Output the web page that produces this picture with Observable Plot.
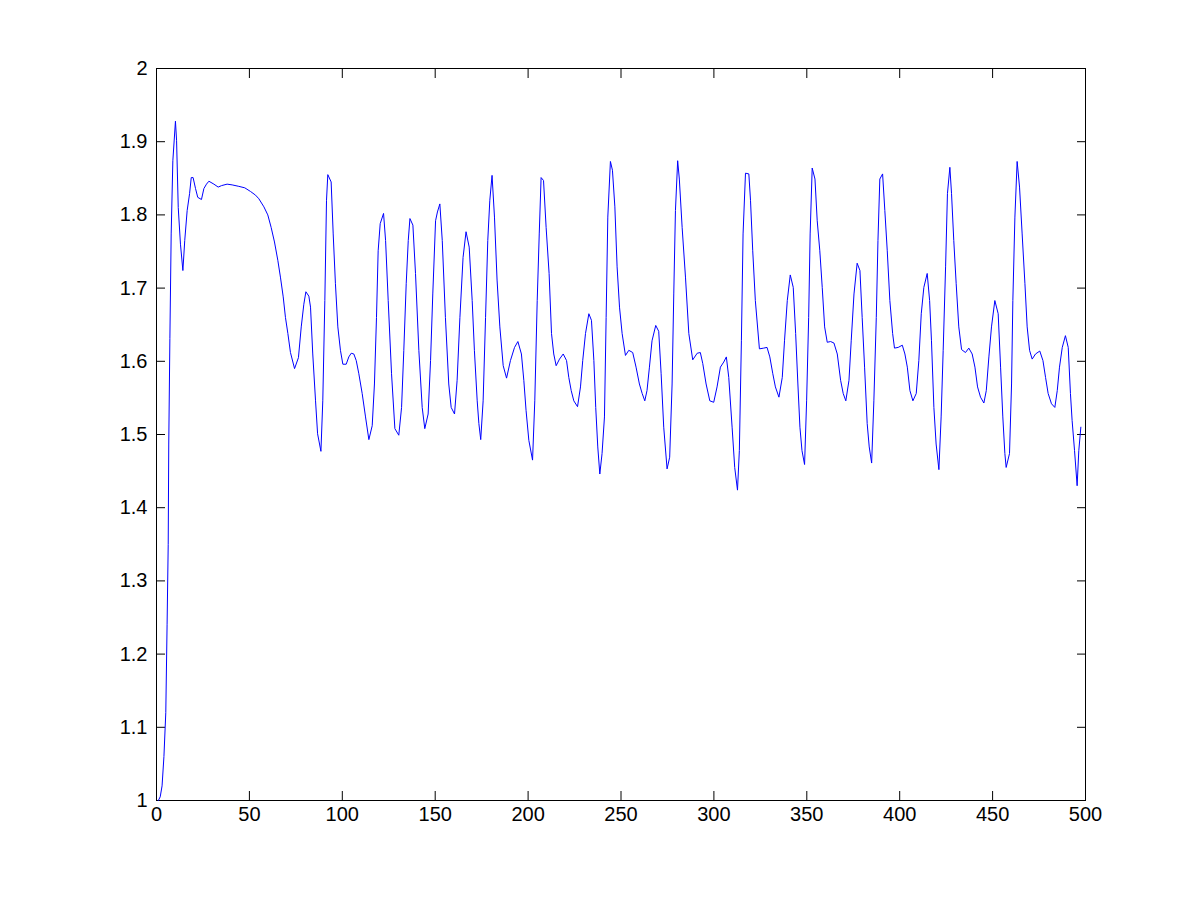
<!DOCTYPE html>
<html>
<head>
<meta charset="utf-8">
<script src="https://cdn.jsdelivr.net/npm/d3@7"></script>
<script src="https://cdn.jsdelivr.net/npm/@observablehq/plot@0.6"></script>
<style>
  html, body { margin: 0; padding: 0; background: #ffffff; }
  #chart { width: 1200px; height: 900px; }
  svg { font-family: "Liberation Sans", Arial, Helvetica, sans-serif; }
</style>
</head>
<body>
<div id="chart"></div>
<script>
const xTicks = [0, 50, 100, 150, 200, 250, 300, 350, 400, 450, 500];
const yTicks = [1, 1.1, 1.2, 1.3, 1.4, 1.5, 1.6, 1.7, 1.8, 1.9, 2];
const yTickLabels = ["1", "1.1", "1.2", "1.3", "1.4", "1.5", "1.6", "1.7", "1.8", "1.9", "2"];

const xs = [1,2,3,4,5,5.7,6.3,6.6,7.2,7.9,8.8,10.2,10.8,11.7,12.9,14.2,15.2,16.5,17.8,18.7,19.7,21,22.2,24.2,25.5,26.9,28.2,30.9,33.2,35,38,40.7,44.3,47.5,50.6,53.3,55.1,57.8,59.9,61.7,63.5,65.3,66.7,68.2,69.4,70.7,72.1,74.3,76.4,77.9,79.3,80.4,82,82.9,84.1,85.6,86.7,88.5,89.5,90.6,91.5,92.2,94,95.1,96.3,97.6,99,100.3,102.1,103.5,104.8,106.2,107.5,108.9,110.7,112.5,114.3,116.1,117.3,118.4,119.3,120.4,122.2,123.3,124.7,126.5,128.3,130.4,131.9,133.1,134.4,135.5,136.4,138,139.4,141.2,143,144.4,146.2,147.5,148.7,150.2,151.2,152.5,153.8,155.5,157.3,158.6,160.4,161.8,163.3,165,166.6,168.3,169.9,171.1,172.6,173.5,174.5,175.8,177.1,178.3,179.4,180.6,181.9,183.3,184.8,186.6,188.4,190.5,192.7,194.5,196.4,197.7,198.9,200.4,202.4,203.6,204.9,206,207,208.3,209.7,211.3,212.6,213.8,215.1,216.9,218.9,220.7,221.9,223.2,224.6,226.6,228.2,229.4,230.9,232.7,234.1,235.4,236.4,237.5,238.6,239.8,241.1,242,242.9,244.3,245.4,246.7,247.9,249.2,250.6,252.4,254.2,256.3,258.1,259.9,261.4,262.8,264,265.3,266.7,268.7,270.3,271.6,273,274.8,276.2,277.5,278.4,279.3,280.5,281.4,282.9,284.7,286.5,288.6,291,292.7,294,295.8,297.8,299.9,301.7,303.5,305.3,306.7,308,309.8,311.2,312.7,313.7,314.8,315.7,317,318.8,319.7,320.9,322.3,324.5,326.8,328.6,330.1,331.7,333.1,335,336.8,338,339.5,341.1,342.7,344,345.2,346.3,347.4,348.8,349.9,351,351.8,352.9,354.4,355.6,357,358.3,359.6,361,362.8,364.6,366.4,368.2,369.6,371,372.7,373.9,375.4,377.1,378.6,379.8,381.1,382.5,383.6,384.9,386.1,387.4,388.3,389.3,390.8,392,393.3,394.7,396.2,397.2,399.2,401.4,402.8,404.1,405.5,407.1,408.9,410.3,411.6,413,414.8,416.1,417.1,418.4,419.6,421.1,422.3,423.4,424.7,425.7,427,427.9,429.1,430.4,431.8,433.3,435.4,437.2,439,440.5,441.9,443.5,445.3,446.6,448,449.4,451.2,453,454.3,455.5,456.6,457.3,459.1,460.2,460.9,462,463.2,464.5,465.9,467.4,468.6,469.9,471.3,473.1,475.4,477.1,478.5,479.9,481.7,483.5,484.8,486,487.5,489.2,490.7,491.9,492.8,494.1,495.5,496.4,497.5];

const ys = [1.0,1.005,1.02,1.06,1.12,1.24,1.35,1.487,1.631,1.774,1.874,1.928,1.902,1.81,1.76,1.724,1.765,1.806,1.829,1.851,1.851,1.836,1.824,1.821,1.836,1.842,1.846,1.842,1.838,1.84,1.842,1.841,1.839,1.837,1.832,1.827,1.822,1.811,1.8,1.783,1.763,1.738,1.715,1.688,1.66,1.638,1.612,1.59,1.605,1.647,1.678,1.695,1.689,1.674,1.61,1.546,1.501,1.477,1.546,1.683,1.82,1.855,1.845,1.774,1.706,1.647,1.615,1.596,1.596,1.606,1.611,1.61,1.601,1.583,1.556,1.524,1.493,1.512,1.569,1.66,1.751,1.788,1.802,1.765,1.683,1.583,1.508,1.499,1.537,1.615,1.706,1.765,1.795,1.786,1.72,1.615,1.537,1.508,1.528,1.601,1.692,1.792,1.804,1.815,1.765,1.66,1.569,1.537,1.528,1.574,1.66,1.742,1.777,1.756,1.683,1.615,1.546,1.515,1.493,1.546,1.66,1.765,1.82,1.854,1.797,1.711,1.647,1.594,1.577,1.601,1.619,1.627,1.61,1.574,1.533,1.492,1.465,1.546,1.683,1.774,1.851,1.847,1.783,1.72,1.638,1.61,1.594,1.603,1.61,1.601,1.578,1.56,1.546,1.538,1.565,1.601,1.638,1.665,1.656,1.601,1.537,1.483,1.446,1.474,1.524,1.66,1.797,1.873,1.861,1.811,1.729,1.674,1.638,1.608,1.615,1.612,1.592,1.569,1.556,1.546,1.56,1.592,1.628,1.649,1.641,1.583,1.51,1.453,1.469,1.569,1.692,1.806,1.874,1.849,1.783,1.715,1.638,1.602,1.611,1.612,1.597,1.569,1.546,1.544,1.565,1.592,1.599,1.606,1.578,1.51,1.455,1.424,1.478,1.628,1.774,1.857,1.856,1.82,1.751,1.683,1.617,1.618,1.619,1.606,1.583,1.565,1.551,1.578,1.628,1.683,1.718,1.701,1.638,1.569,1.51,1.478,1.459,1.546,1.66,1.774,1.864,1.849,1.792,1.751,1.701,1.647,1.626,1.627,1.625,1.61,1.574,1.556,1.546,1.574,1.628,1.692,1.734,1.724,1.66,1.592,1.515,1.483,1.461,1.546,1.66,1.765,1.849,1.856,1.806,1.751,1.683,1.638,1.618,1.619,1.622,1.61,1.592,1.56,1.546,1.556,1.601,1.665,1.701,1.72,1.683,1.628,1.537,1.487,1.452,1.524,1.615,1.729,1.829,1.865,1.829,1.765,1.706,1.647,1.616,1.612,1.618,1.61,1.592,1.565,1.551,1.543,1.56,1.606,1.647,1.683,1.665,1.592,1.524,1.474,1.455,1.474,1.569,1.683,1.797,1.873,1.838,1.774,1.706,1.647,1.615,1.603,1.61,1.614,1.601,1.578,1.556,1.542,1.537,1.56,1.592,1.619,1.635,1.619,1.556,1.519,1.478,1.43,1.478,1.51];

const data = xs.map((x, i) => ({x, y: ys[i]}));

const chart = Plot.plot({
  width: 1200,
  height: 900,
  marginLeft: 156,
  marginRight: 115,
  marginTop: 68,
  marginBottom: 100,
  style: {fontSize: "20px", fontFamily: "'Liberation Sans', Arial, sans-serif", color: "#000", background: "#fff"},
  x: {domain: [0, 500], ticks: xTicks},
  y: {domain: [1, 2], ticks: yTicks},
  marks: [
    Plot.frame({stroke: "#000", strokeWidth: 1}),
    Plot.axisX(xTicks, {anchor: "bottom", tickSize: 0, tickPadding: 6, tickFormat: d => String(d), label: null}),
    Plot.axisY(yTicks, {anchor: "left", tickSize: 0, tickPadding: 9, tickFormat: (d, i) => yTickLabels[yTicks.indexOf(d)], label: null}),
    Plot.axisX(xTicks, {anchor: "bottom", tickSize: -9, tickFormat: () => "", label: null}),
    Plot.axisX(xTicks, {anchor: "top", tickSize: -9, tickFormat: () => "", label: null}),
    Plot.axisY(yTicks, {anchor: "left", tickSize: -9, tickFormat: () => "", label: null}),
    Plot.axisY(yTicks, {anchor: "right", tickSize: -9, tickFormat: () => "", label: null}),
    Plot.line(data, {x: "x", y: "y", stroke: "#0000ff", strokeWidth: 1})
  ]
});
document.getElementById("chart").appendChild(chart);
</script>
</body>
</html>
